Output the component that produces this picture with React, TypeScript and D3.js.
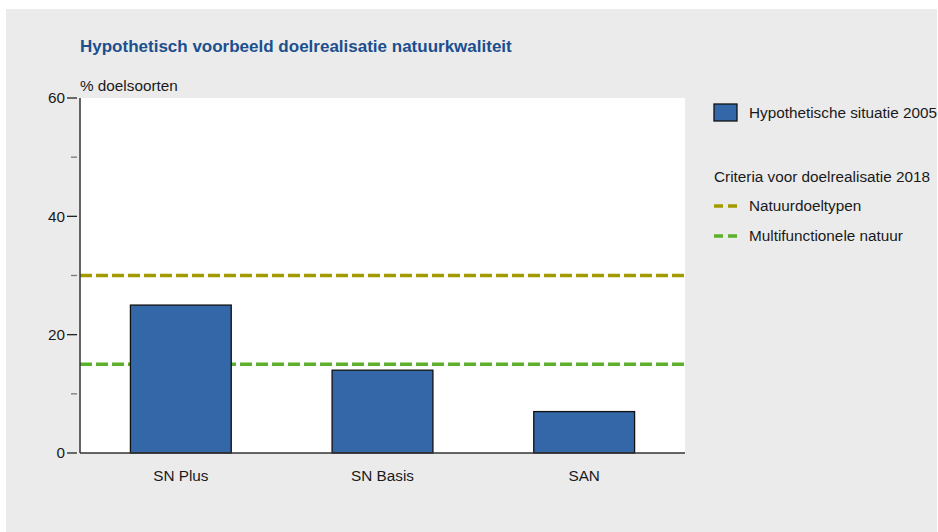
import React from "react";
import * as d3 from "d3";

const categories = ["SN Plus", "SN Basis", "SAN"];
const values2005 = [25, 14, 7];
const criteriaNames = ["Natuurdoeltypen", "Multifunctionele natuur"];
const criteriaValues = [30, 15];
const criteriaColors = ["#a39a00", "#5bb02c"];
const majorTicks = [0, 20, 40, 60];
const minorTicks = [10, 30, 50];

const W = 938;
const H = 532;
const plot = { left: 80, right: 685, top: 98, bottom: 453 };
const FONT = "'Liberation Sans', Arial, sans-serif";
const BAR_COLOR = "#3467a7";
const FS = 15.3;

export default function App() {
  const x = d3
    .scaleBand<string>()
    .domain(categories)
    .range([plot.left, plot.right])
    .paddingInner(0.5)
    .paddingOuter(0.25);
  const y = d3.scaleLinear().domain([0, 60]).range([plot.bottom, plot.top]);

  return (
    <svg
      width={W}
      height={H}
      style={{ position: "absolute", left: 0, top: 0, fontFamily: FONT }}
    >
      <rect x={0} y={0} width={W} height={H} fill="#ffffff" />
      <rect x={6} y={9} width={931} height={H - 9} fill="#ebebeb" />
      <text x={80} y={52} fontSize={17} fontWeight="bold" fill="#1b4f8e">
        Hypothetisch voorbeeld doelrealisatie natuurkwaliteit
      </text>
      <text x={80} y={91} fontSize={FS} fill="#1a1a1a">
        % doelsoorten
      </text>
      <rect
        x={plot.left}
        y={plot.top}
        width={plot.right - plot.left}
        height={plot.bottom - plot.top}
        fill="#ffffff"
      />
      {criteriaValues.map((v, i) => (
        <line
          key={"c" + i}
          x1={plot.left}
          x2={plot.right}
          y1={y(v)}
          y2={y(v)}
          stroke={criteriaColors[i]}
          strokeWidth={3.5}
          strokeDasharray="12,4"
        />
      ))}
      {categories.map((c, i) => (
        <rect
          key={c}
          x={x(c)}
          y={y(values2005[i])}
          width={x.bandwidth()}
          height={y(0) - y(values2005[i])}
          fill={BAR_COLOR}
          stroke="#111"
          strokeWidth={1.3}
        />
      ))}
      <line
        x1={plot.left}
        x2={plot.left}
        y1={plot.top}
        y2={plot.bottom}
        stroke="#333"
        strokeWidth={1.5}
      />
      <line
        x1={plot.left}
        x2={plot.right}
        y1={plot.bottom}
        y2={plot.bottom}
        stroke="#333"
        strokeWidth={1.5}
      />
      {majorTicks.map((t) => (
        <g key={"t" + t}>
          <line x1={67} x2={77} y1={y(t)} y2={y(t)} stroke="#222" strokeWidth={1.3} />
          <text
            x={65}
            y={y(t)}
            dy="0.35em"
            textAnchor="end"
            fontSize={FS}
            fill="#1a1a1a"
          >
            {t}
          </text>
        </g>
      ))}
      {minorTicks.map((t) => (
        <line key={"m" + t} x1={71} x2={77} y1={y(t)} y2={y(t)} stroke="#777" strokeWidth={1.3} />
      ))}
      {categories.map((c) => (
        <text
          key={"l" + c}
          x={(x(c) as number) + x.bandwidth() / 2}
          y={481}
          textAnchor="middle"
          fontSize={FS}
          fill="#1a1a1a"
        >
          {c}
        </text>
      ))}
      <rect x={714} y={104} width={23} height={17} fill={BAR_COLOR} stroke="#111" strokeWidth={1.3} />
      <text x={749} y={118} fontSize={FS} fill="#1a1a1a">
        Hypothetische situatie 2005
      </text>
      <text x={714} y={182} fontSize={FS} fill="#1a1a1a">
        Criteria voor doelrealisatie 2018
      </text>
      {criteriaNames.map((n, i) => (
        <g key={n}>
          <line
            x1={714}
            x2={738}
            y1={206 + i * 30}
            y2={206 + i * 30}
            stroke={criteriaColors[i]}
            strokeWidth={3.5}
            strokeDasharray="9,5"
          />
          <text x={749} y={211 + i * 30} fontSize={FS} fill="#1a1a1a">
            {n}
          </text>
        </g>
      ))}
    </svg>
  );
}
